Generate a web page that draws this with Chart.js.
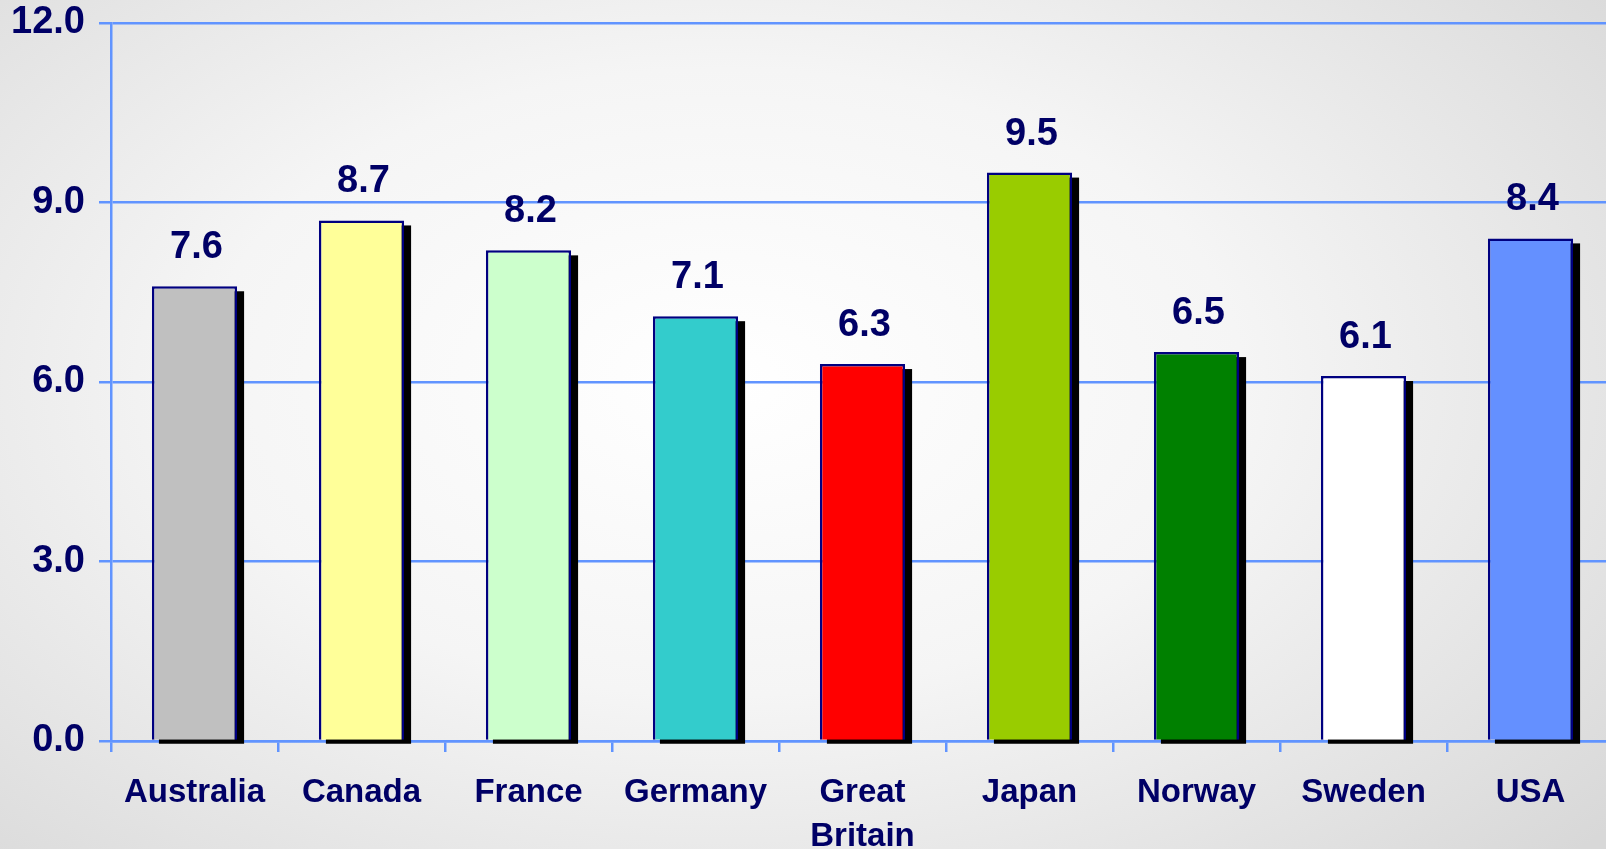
<!DOCTYPE html>
<html>
<head>
<meta charset="utf-8">
<script src="https://cdn.jsdelivr.net/npm/chart.js@4.4.0/dist/chart.umd.min.js"></script>
<style>
  html, body { margin: 0; padding: 0; }
  body {
    width: 1606px; height: 849px; overflow: hidden; position: relative;
    background: radial-gradient(ellipse 72% 82% at 45% 45%, #ffffff 0%, #f5f5f5 45%, #d8d8d8 100%);
  }
  /* plot runs a little past the right edge, as in the original */
  #wrap { position: absolute; left: 0; top: 0; width: 1614px; height: 849px; }
</style>
</head>
<body>
<div id="wrap"><canvas id="chart"></canvas></div>
<script>
// data
var countries = ['Australia', 'Canada', 'France', 'Germany', ['Great', 'Britain'], 'Japan', 'Norway', 'Sweden', 'USA'];
var values = [7.6, 8.7, 8.2, 7.1, 6.3, 9.5, 6.5, 6.1, 8.4];
var barColors = ['#C0C0C0', '#FFFF99', '#CCFFCC', '#33CCCC', '#FF0000', '#99CC00', '#008000', '#FFFFFF', '#6490FF'];
var yTicks = [0, 3, 6, 9, 12];

var navy = '#000066';
var gridBlue = '#6194FF';
var fontFam = '"Liberation Sans", Arial, sans-serif';

// black drop shadow behind each bar
var shadowPlugin = {
  id: 'barShadow',
  beforeDatasetsDraw: function(chart) {
    var ctx = chart.ctx;
    var meta = chart.getDatasetMeta(0);
    ctx.save();
    ctx.fillStyle = '#000000';
    meta.data.forEach(function(bar) {
      var w = bar.width;
      ctx.fillRect(bar.x - w / 2 + 7, bar.y + 5, w, bar.base - bar.y - 1);
    });
    ctx.restore();
  }
};

// value labels above the bars
var valueLabels = {
  id: 'valueLabels',
  afterDatasetsDraw: function(chart) {
    var ctx = chart.ctx;
    var meta = chart.getDatasetMeta(0);
    ctx.save();
    ctx.font = 'bold 38px ' + fontFam;
    ctx.fillStyle = navy;
    ctx.textAlign = 'center';
    ctx.textBaseline = 'alphabetic';
    meta.data.forEach(function(bar, i) {
      ctx.fillText(values[i].toFixed(1), bar.x + 2, bar.y - 28);
    });
    ctx.restore();
  }
};

var ctx = document.getElementById('chart').getContext('2d');
var chart = new Chart(ctx, {
  type: 'bar',
  data: {
    labels: countries,
    datasets: [{
      data: values,
      backgroundColor: barColors,
      borderColor: '#000080',
      borderWidth: 2.5,
      borderSkipped: 'bottom',
      barPercentage: 0.51,
      categoryPercentage: 1.0
    }]
  },
  options: {
    responsive: true,
    maintainAspectRatio: false,
    animation: false,
    layout: { padding: { top: 23, right: 0, left: 0, bottom: 0 } },
    plugins: {
      legend: { display: false },
      tooltip: { enabled: false }
    },
    scales: {
      x: {
        grid: {
          offset: true,
          drawOnChartArea: false,
          drawTicks: true,
          tickLength: 11,
          color: gridBlue,
          lineWidth: 2.5
        },
        border: { display: true, color: gridBlue, width: 2.5 },
        ticks: {
          color: navy,
          padding: 18,
          maxRotation: 0,
          autoSkip: false,
          font: { family: fontFam, size: 33, weight: 'bold', lineHeight: 1.36 }
        },
        afterFit: function(scale) {
          scale.height = 108;
          scale.paddingLeft = 0;
          scale.paddingRight = 0;
        }
      },
      y: {
        min: 0,
        max: 12,
        afterBuildTicks: function(scale) {
          scale.ticks = yTicks.map(function(v) { return { value: v }; });
        },
        grid: {
          color: gridBlue,
          lineWidth: 2.5,
          drawTicks: true,
          tickLength: 12
        },
        border: { display: true, color: gridBlue, width: 2.5 },
        ticks: {
          color: navy,
          padding: 14,
          font: { family: fontFam, size: 38, weight: 'bold' },
          callback: function(v) { return Number(v).toFixed(1); }
        },
        afterFit: function(scale) {
          scale.width = 111;
          scale.paddingTop = 0;
          scale.paddingBottom = 0;
        }
      }
    }
  },
  plugins: [shadowPlugin, valueLabels]
});
</script>
</body>
</html>
